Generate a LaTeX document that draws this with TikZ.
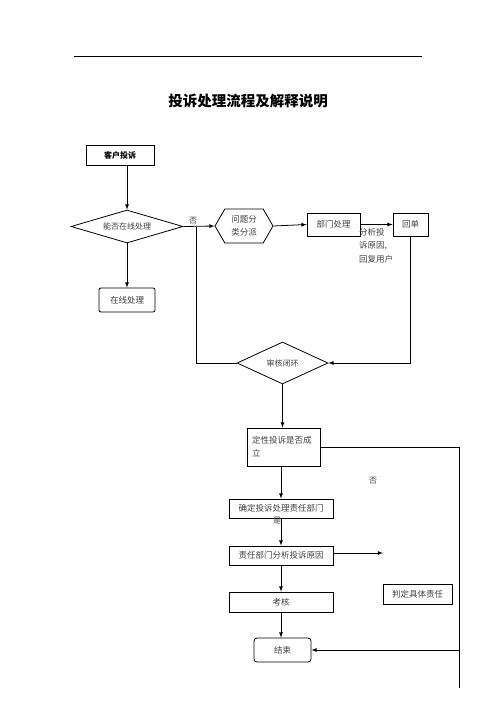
\documentclass[tikz,border=0pt]{standalone}
\usepackage{fontspec}
\setmainfont{Noto Sans CJK SC}
\usetikzlibrary{arrows,shapes.geometric,shapes.symbols}
\tikzset{ box/.style={ draw, thick, inner sep=0pt, font=\fontsize{8.5}{13}\selectfont, text=black!75 } }
\tikzset{ decision/.style={ draw, thick, diamond, inner sep=0pt, font=\fontsize{8}{10}\selectfont, text=black!75 } }

\begin{document}
\begin{tikzpicture}[x=1pt,y=-1pt]
	\useasboundingbox (0,0) rectangle (496,702);
	\draw [thick] (74,56) -- (422,56);
	\node at (248,101) [font=\fontsize{14.5}{14.5}\selectfont\bfseries] (title) {投诉处理流程及解释说明};

	\node at (120,155) [box, minimum width=68pt, minimum height=20pt, font=\fontsize{8}{10}\selectfont\bfseries, text=black] (complaint) {客户投诉};
	\node at (127,226.5) [decision, aspect=3.4, minimum width=112pt, minimum height=33pt] (online) {能否在线处理};
	\node at (127,300) [box, rounded corners=2pt, minimum width=56pt, minimum height=24pt] (handle) {在线处理};
	\node at (244,226) [box, signal, signal to=east and west, signal pointer angle=120, minimum width=58pt, minimum height=34pt, align=center] (assign) {问题分\\类分派};
	\node at (333.5,224.5) [box, minimum width=53pt, minimum height=23pt] (dept) {部门处理};
	\node at (410.5,224.5) [box, minimum width=35pt, minimum height=23pt] (reply) {回单};
	\node at (359,228) [anchor=north west, inner sep=0pt, align=left, font=\fontsize{8.5}{13.5}\selectfont, text=black!75] (reason) {分析投\\诉原因,\\回复用户};
	\node at (282.5,363) [decision, aspect=2.2, minimum width=91pt, minimum height=42pt] (audit) {审核闭环};

	\node at (283.5,447) [box, minimum width=73pt, minimum height=38pt, text width=63pt, align=left] (valid) {定性投诉是否成\\立};
	\node at (281,508.5) [box, minimum width=104pt, minimum height=19pt] (resp) {确定投诉处理责任部门};
	\node at (281,555.5) [box, minimum width=104pt, minimum height=19pt] (analyse) {责任部门分析投诉原因};
	\node at (281,602) [box, minimum width=104pt, minimum height=20pt] (assess) {考核};
	\node at (417.5,594) [box, minimum width=69pt, minimum height=20pt] (judge) {判定具体责任};
	\node at (282.5,650) [box, rounded corners=3pt, minimum width=57pt, minimum height=24pt] (finish) {结束};

	\node at (193,221) [font=\fontsize{8}{8}\selectfont, text=black!75] (no1) {否};
	\node at (373,481) [font=\fontsize{8}{8}\selectfont, text=black!75] (no2) {否};
	\node at (277,521) [font=\fontsize{8}{8}\selectfont, text=black!75] (yes) {是};

	\coordinate (back) at (196,226.5);
	\coordinate (side) at (383,553);
	\coordinate (corner) at (459,447);
	\coordinate (bottom) at (459,688);

	\draw [thick,-latex] (complaint.south -| online.north) -- (online.north);
	\draw [thick,-latex] (online.south) -- (handle.north);
	\draw [thick,-latex] (online.east) -- (assign.west);
	\draw [thick] (back) |- (audit.west);
	\draw [thick,-latex] (assign.east) -- (dept.west);
	\draw [thick,-latex] (dept.east) -- (reply.west);
	\draw [thick,-latex] (reply.south) |- (audit.east);
	\draw [thick,-latex] (audit.south) -- (audit.south |- valid.north);
	\draw [thick,-latex] (valid.south -| resp.north) -- (resp.north);
	\draw [thick,-latex] (resp.south) -- (analyse.north);
	\draw [thick,-latex] (analyse.east |- side) -- (side);
	\draw [thick,-latex] (analyse.south) -- (assess.north);
	\draw [thick,-latex] (assess.south) -- (assess.south |- finish.north);
	\draw [thick] (valid.east |- corner) -- (corner) -- (bottom);
	\draw [thick,-latex] (corner |- finish.east) -- (finish.east);
\end{tikzpicture}
\end{document}
